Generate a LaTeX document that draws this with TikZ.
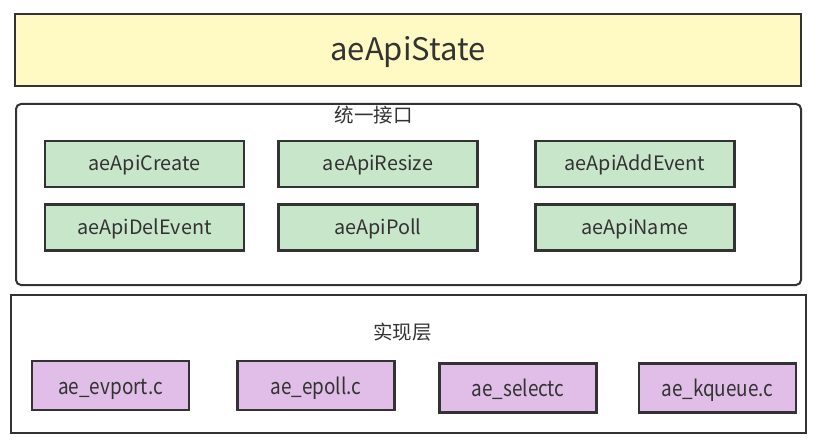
\documentclass[tikz,border=0pt]{standalone}
\usepackage{fontspec}
\setmainfont{Noto Sans CJK SC}
\newfontfamily\narrowfont[FakeStretch=0.86]{Noto Sans CJK SC}
\definecolor{edge}{HTML}{333333}
\definecolor{txt}{HTML}{333333}
\definecolor{yel}{HTML}{FFF9C4}
\definecolor{grn}{HTML}{C8E6C9}
\definecolor{pur}{HTML}{E1BEE7}
\tikzset{
  base/.style={draw=edge, line width=2pt, inner sep=0pt, outer sep=0pt, text=txt, anchor=center},
  statebox/.style={base, fill=yel, minimum width=786pt, minimum height=72pt, font=\fontsize{31}{36}\selectfont, text height=23.4pt, text depth=2pt},
  layerbox/.style={base, fill=white},
  apibox/.style={base, fill=grn, line width=2.5pt, minimum width=199pt, minimum height=46pt, font=\fontsize{19.8}{23}\selectfont, text height=15pt, text depth=2pt},
  implbox/.style={base, fill=pur, line width=2.5pt, minimum width=157pt, minimum height=49pt, font=\narrowfont\fontsize{22}{26}\selectfont, text height=19pt, text depth=2pt},
  lbl/.style={inner sep=0pt, text=txt, font=\fontsize{19.5}{23}\selectfont},
}
\begin{document}
\begin{tikzpicture}[x=1pt, y=-1pt]
\useasboundingbox (0,0) rectangle (818,446);
\node[statebox] (state) at (408,50) {aeApiState};
\node[layerbox, rounded corners=5pt, minimum width=785pt, minimum height=181pt] (iface) at (408.5,194.5) {};
\node[lbl] (ifacelbl) at (373.5,115) {统一接口};
\node[apibox] (create) at (144.5,164) {aeApiCreate};
\node[apibox] (resize) at (378,164) {aeApiResize};
\node[apibox] (add) at (635,164) {aeApiAddEvent};
\node[apibox] (del) at (144.5,227.5) {aeApiDelEvent};
\node[apibox] (poll) at (378,227.5) {aeApiPoll};
\node[apibox] (name) at (635,227.5) {aeApiName};
\node[layerbox, minimum width=795pt, minimum height=138pt] (impl) at (408.5,364) {};
\node[lbl] (impllbl) at (402.5,332) {实现层};
\node[implbox] (evport) at (110.5,385.5) {ae\_evport.c};
\node[implbox] (epoll) at (316,385.5) {ae\_epoll.c};
\node[implbox] (select) at (518,388) {ae\_selectc};
\node[implbox] (kqueue) at (717.5,388) {ae\_kqueue.c};
\end{tikzpicture}
\end{document}
